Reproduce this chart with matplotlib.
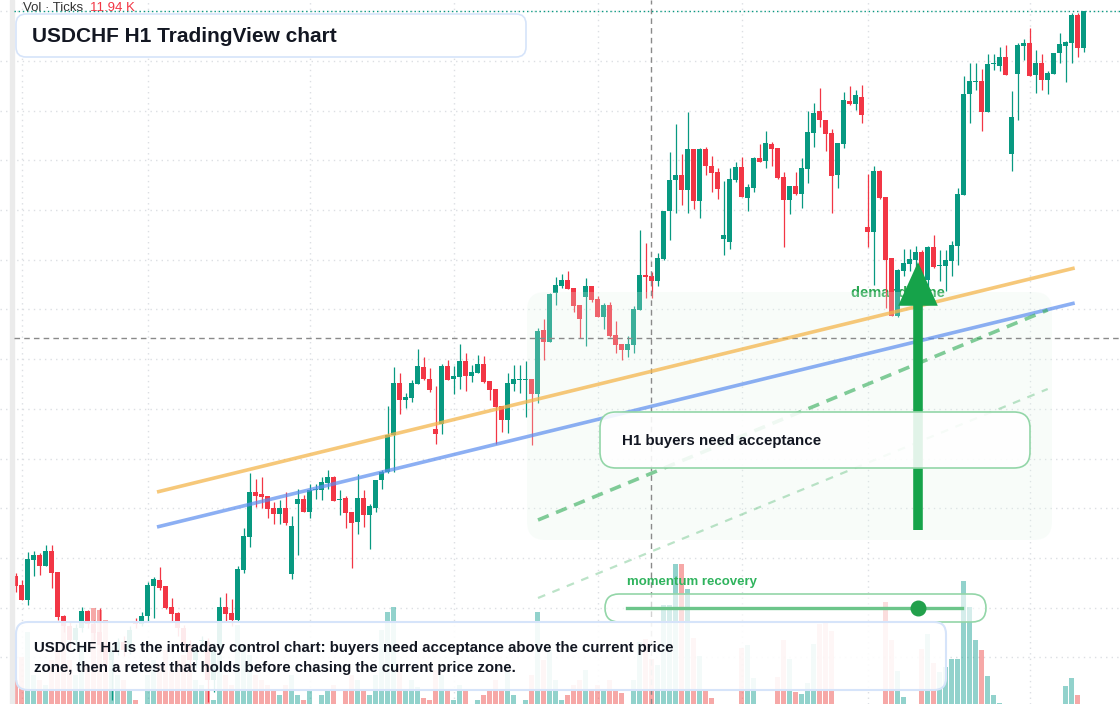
import numpy as np
import matplotlib
matplotlib.use("Agg")
import matplotlib.pyplot as plt
from matplotlib.patches import FancyBboxPatch, Rectangle
from matplotlib.transforms import Affine2D
from matplotlib.colors import to_rgba

plt.rcParams['font.family'] = ['Liberation Sans', 'DejaVu Sans']

# --- H1 bars (price in chart points, the price scale itself is hidden) ---
opens = [128, 119, 104, 144, 149, 138, 153, 132, 88, 78, 64, 76, 93, 80, 72, 59, 44, 54, 62, 54,
         82, 80, 88, 118, 124, 118, 97, 91, 76, 59, 44, 63, 62, 24, 56, 97, 91, 84, 134, 167,
         212, 210, 208, 196, 190, 196, 130, 200, 205, 192, 214, 214, 221, 227, 204, 206, 192, 182, 206, 189,
         196, 224, 232, 269, 321, 304, 306, 320, 337, 325, 275, 280, 338, 325, 327, 343, 328, 331, 340, 323,
         315, 298, 284, 320, 324, 324, 325, 310, 374, 362, 411, 418, 424, 416, 399, 407, 418, 405, 387, 399,
         369, 360, 354, 359, 394, 429, 428, 423, 445, 493, 524, 529, 514, 555, 503, 555, 538, 532, 465, 462,
         524, 537, 506, 516, 546, 543, 560, 556, 527, 504, 518, 510, 535, 571, 593, 584, 571, 529, 560, 603,
         600, 607, 477, 472, 533, 507, 446, 388, 433, 440, 444, 452, 424, 457, 438, 438, 443, 458, 509, 610,
         622, 623, 592, 640, 638, 647, 550, 630, 658, 661, 629, 641, 624, 630, 651, 658, 661, 689, 656]
highs = [131, 124, 152, 153, 151, 159, 159, 132, 89, 82, 80, 97, 94, 84, 96, 64, 58, 66, 68, 78,
         86, 92, 122, 127, 137, 118, 106, 92, 79, 64, 60, 68, 66, 61, 107, 111, 105, 138, 176, 231,
         225, 227, 208, 202, 204, 212, 188, 215, 209, 220, 220, 227, 234, 228, 214, 208, 192, 230, 214, 200,
         224, 234, 298, 337, 331, 311, 324, 355, 347, 336, 318, 340, 344, 338, 360, 351, 339, 349, 348, 323,
         315, 298, 331, 339, 339, 343, 325, 376, 385, 411, 427, 430, 433, 416, 399, 426, 418, 408, 401, 402,
         383, 360, 368, 398, 474, 461, 432, 451, 493, 552, 580, 550, 592, 555, 556, 557, 548, 536, 523, 536,
         542, 547, 520, 547, 560, 573, 562, 556, 532, 518, 532, 546, 593, 601, 616, 584, 575, 561, 612, 618,
         614, 619, 530, 538, 534, 507, 446, 435, 455, 455, 458, 454, 458, 469, 454, 454, 463, 516, 628, 641,
         641, 635, 650, 650, 657, 659, 613, 661, 665, 676, 654, 650, 633, 651, 671, 663, 691, 691, 693]
lows = [112, 104, 99, 128, 129, 138, 116, 84, 72, 56, 59, 72, 76, 64, 52, 36, 4, 49, 48, 50,
        76, 78, 82, 86, 114, 95, 83, 68, 54, 38, 36, 59, 2, 12, 52, 82, 78, 82, 131, 157,
        197, 196, 186, 180, 180, 179, 125, 149, 192, 186, 205, 204, 215, 203, 189, 176, 136, 170, 177, 155,
        192, 215, 231, 232, 290, 296, 302, 320, 324, 312, 260, 270, 324, 310, 315, 313, 322, 331, 321, 304,
        260, 272, 271, 313, 311, 287, 259, 301, 344, 362, 399, 416, 415, 392, 366, 358, 402, 387, 375, 367,
        351, 344, 347, 351, 394, 406, 406, 418, 444, 464, 491, 499, 491, 495, 486, 529, 512, 505, 449, 455,
        522, 507, 493, 512, 542, 536, 538, 525, 457, 490, 509, 496, 521, 557, 577, 553, 491, 516, 556, 599,
        594, 581, 457, 419, 505, 396, 388, 387, 428, 433, 434, 422, 412, 436, 423, 413, 428, 439, 509, 581,
        614, 573, 592, 634, 633, 629, 533, 584, 644, 628, 611, 614, 610, 630, 641, 622, 641, 647, 652]
closes = [118, 104, 145, 149, 138, 153, 131, 87, 78, 64, 76, 93, 80, 71, 59, 44, 54, 62, 54, 74,
          80, 88, 119, 125, 116, 96, 90, 76, 59, 44, 56, 64, 24, 56, 97, 90, 84, 135, 168, 212,
          208, 207, 195, 190, 196, 181, 178, 205, 192, 214, 215, 222, 227, 203, 205, 191, 181, 206, 189, 198,
          224, 232, 269, 321, 304, 307, 321, 338, 325, 314, 270, 338, 324, 328, 343, 328, 332, 340, 322, 314,
          297, 284, 321, 325, 325, 325, 310, 373, 362, 410, 419, 424, 415, 398, 385, 418, 404, 387, 399, 368,
          359, 354, 360, 395, 429, 427, 423, 446, 493, 524, 529, 514, 555, 503, 555, 538, 531, 515, 469, 525,
          537, 507, 517, 546, 542, 561, 555, 526, 504, 518, 510, 536, 572, 591, 584, 570, 528, 561, 604, 600,
          609, 589, 472, 533, 506, 444, 388, 434, 441, 445, 452, 428, 457, 437, 439, 444, 459, 510, 610, 623,
          623, 592, 640, 641, 647, 629, 587, 659, 661, 628, 641, 624, 631, 651, 660, 662, 689, 656, 693]
volumes = [40, 63, 88, 45, 40, 35, 60, 70, 104, 60, 45, 75, 55, 112, 110, 100, 70, 45, 40, 30,
           20, 15, 45, 60, 55, 70, 50, 60, 65, 55, 40, 35, 30, 20, 65, 45, 35, 95, 75, 65,
           45, 40, 35, 30, 25, 35, 45, 25, 20, 30, 15, 25, 30, 35, 15, 30, 45, 40, 30, 25,
           45, 90, 108, 113, 55, 30, 40, 33, 22, 20, 50, 45, 30, 20, 35, 30, 15, 20, 25, 30,
           40, 30, 50, 25, 15, 20, 45, 108, 60, 70, 40, 20, 25, 35, 40, 50, 30, 35, 30, 40,
           30, 27, 10, 40, 78, 81, 61, 55, 115, 115, 156, 156, 131, 82, 64, 30, 22, 8, 8, 8,
           8, 72, 75, 42, 8, 8, 8, 43, 80, 61, 28, 26, 37, 76, 96, 98, 89, 8, 8, 8,
           8, 8, 8, 8, 8, 118, 80, 49, 23, 8, 8, 71, 86, 57, 48, 53, 61, 61, 139, 113,
           80, 70, 44, 25, 17, 8, 8, 8, 8, 8, 8, 8, 8, 8, 8, 34, 42, 25, 8]
session_starts = [1, 22, 49, 73, 97, 121, 142, 169]
crosshair_bar, crosshair_price = 105.9, 366

# drawn levels: (bar, price) anchors
res_x, res_y = [23.55, 176.5], [212, 436]
sup_x, sup_y = [23.55, 176.5], [177, 401]
path_x, path_y = [87.05, 172.0], [184, 394]
path2_x, path2_y = [87.05, 172.0], [106, 315]

W, H = 1120, 704
UP, DN = '#089981', '#f23645'

fig = plt.figure(figsize=(W / 100, H / 100), dpi=100)
ax = fig.add_axes([0, 0, 1, 1])
ax.set_facecolor('white')
for s in ax.spines.values():
    s.set_visible(False)
PX = Affine2D().scale(1 / W, -1 / H).translate(0, 1) + fig.transFigure

o, h, l, c = map(np.array, (opens, highs, lows, closes))
v = np.array(volumes)
x = np.arange(len(o))
up = c >= o
cols = np.where(up, UP, DN)

# grid
ax.set_xticks(session_starts)
ax.set_yticks(np.arange(46.6, 700, 49.7))
ax.tick_params(length=0, labelleft=False, labelbottom=False)
ax.grid(True, color='#dcdfe3', linestyle=(0, (1, 3)), lw=1)
ax.set_axisbelow(True)

# volume (baseline sits below the visible area)
vol_base = -16
ax.bar(x, v, bottom=vol_base, width=0.86,
       color=[to_rgba('#26a69a', 0.5) if u else to_rgba('#ef5350', 0.5) for u in up], zorder=1)

ax.text(898, 293, 'demand zone', transform=PX, ha='center', va='center',
        fontsize=10.5, fontweight='bold', color='#2aa652', zorder=1.5)

# candles
ax.vlines(x, l, h, colors=cols, lw=0.9, zorder=2)
body = np.maximum(np.abs(c - o), 1.2)
ax.bar(x, body, bottom=np.minimum(o, c), width=0.78, color=cols, zorder=2.1)

# green zone overlay
ax.add_patch(FancyBboxPatch((527, 292), 525, 248, boxstyle='round,pad=0,rounding_size=18',
                            transform=PX, facecolor=to_rgba('#e4f6ea', 0.24), edgecolor='none', zorder=3))

ax.add_patch(Rectangle((10, 0), 4, H, transform=PX, color='#ebebeb', zorder=3))

# crosshair + last price line
ax.axvline(crosshair_bar, color='#8a8a8a', lw=1, linestyle=(0, (4, 3)), zorder=3.2)
ax.axhline(crosshair_price, xmin=14 / W, color='#8a8a8a', lw=1, linestyle=(0, (4, 3)), zorder=3.2)
ax.axhline(c[-1], xmin=14 / W, color=UP, lw=1, linestyle=(0, (1, 2)), zorder=3.2)

# trend lines
ax.plot(res_x, res_y, color='#f4b64d', alpha=0.75, lw=2.6, solid_capstyle='butt', zorder=4)
ax.plot(sup_x, sup_y, color='#5b8def', alpha=0.7, lw=2.6, solid_capstyle='butt', zorder=4)
ax.plot(path_x, path_y, color='#3fb163', alpha=0.65, lw=2.6, linestyle=(0, (3.2, 2.2)), zorder=4)
ax.plot(path2_x, path2_y, color='#3fb163', alpha=0.35, lw=1.6, linestyle=(0, (3.5, 3.5)), zorder=4)

# arrow
ax.annotate('', xy=(918, 262), xytext=(918, 530), xycoords=PX, textcoords=PX,
            arrowprops=dict(arrowstyle='simple,head_length=1.05,head_width=0.95,tail_width=0.23',
                            mutation_scale=30, color='#16a34a', lw=0, shrinkA=0, shrinkB=0),
            zorder=5)


def card(x0, y0, w, hh, r, ec, fa, lw=1.2, z=6):
    ax.add_patch(FancyBboxPatch((x0, y0), w, hh, boxstyle=f'round,pad=0,rounding_size={r}',
                                transform=PX, facecolor=to_rgba('white', fa), edgecolor=ec,
                                lw=lw, zorder=z))


card(600, 412, 430, 56, 16, '#93d6a8', 0.88)
ax.text(622, 441, 'H1 buyers need acceptance', transform=PX, va='center', ha='left',
        fontsize=10.9, fontweight='bold', color='#131722', zorder=7)

card(605, 594, 381, 28, 14, '#93d6a8', 0.62)
ax.plot([627, 962], [608, 608], transform=PX, color='#6cc58a', lw=2.4, zorder=7)
ax.plot([918], [608], transform=PX, marker='o', markersize=10.5, color='#22a04b', zorder=7.5)
ax.text(627, 582, 'momentum recovery', transform=PX, va='center', ha='left',
        fontsize=9.5, fontweight='bold', color='#2fb35d', zorder=7)

card(16, 14, 510, 43, 10, '#d6e4fa', 1.0)
ax.text(32, 36, 'USDCHF H1 TradingView chart', transform=PX, va='center', ha='left',
        fontsize=15, fontweight='bold', color='#131722', zorder=7)

card(16, 622, 930, 68, 12, '#d6e4fa', 0.9, lw=1.5)
ax.text(34, 648, 'USDCHF H1 is the intraday control chart: buyers need acceptance above the current price',
        transform=PX, va='center', ha='left', fontsize=10.8, fontweight='bold', color='#131722', zorder=7)
ax.text(34, 668, 'zone, then a retest that holds before chasing the current price zone.',
        transform=PX, va='center', ha='left', fontsize=10.8, fontweight='bold', color='#131722', zorder=7)

ax.text(23, 8, 'Vol · Ticks', transform=PX, va='center', ha='left', fontsize=9.5, color='#333333', zorder=7)
ax.text(90, 8, '11.94 K', transform=PX, va='center', ha='left', fontsize=9.5, color=DN, zorder=7)

ax.set_xlim((0 - 15.7) / 6, (W - 15.7) / 6)
ax.set_ylim(0, H)
fig.savefig('out.png', dpi=100)
